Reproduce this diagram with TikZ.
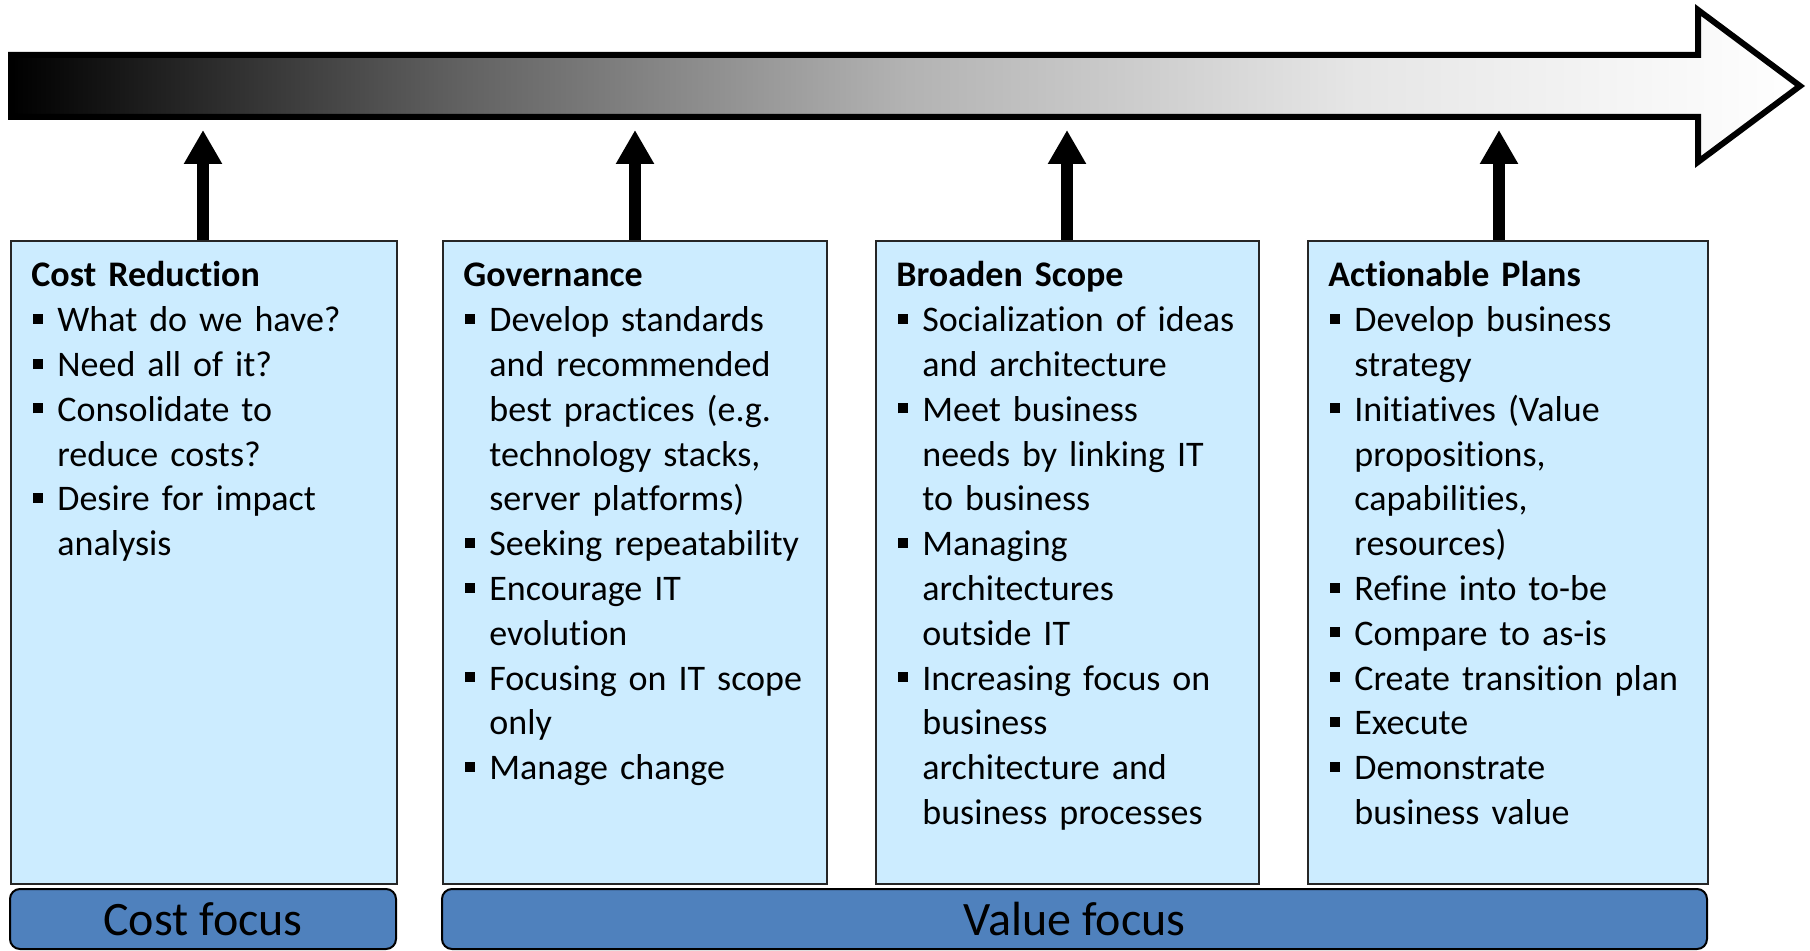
\documentclass[tikz,border=0pt]{standalone}
\usepackage{fontspec}
\setmainfont{Carlito}[Ligatures=NoCommon]
\usepackage{xcolor}
\usepackage{tikz}
\usetikzlibrary{arrows.meta}

\definecolor{boxblue}{RGB}{204,236,255}
\definecolor{barblue}{RGB}{79,129,189}
\pgfdeclarehorizontalshading{timeline}{100bp}{color(0bp)=(black); color(25bp)=(black); color(37.5bp)=(black!62); color(50bp)=(black!30); color(62.5bp)=(black!10); color(75bp)=(white); color(100bp)=(white)}

\newcommand{\itm}{\par\hangindent=13pt\hangafter=1\noindent\makebox[13pt][l]{\hspace{1pt}\raisebox{4pt}{\rule{5pt}{5pt}}}}
\newcommand{\nl}{\newline}

\begin{document}
\begin{tikzpicture}[x=0.5pt,y=-0.5pt]
			\tikzstyle{panel} = [draw=black!85, line width=1pt, fill=boxblue, inner sep=0pt, anchor=north west, minimum height=321.5pt]
			\tikzstyle{list} = [anchor=base west, inner sep=0pt, text width=190pt, align=left, font=\fontsize{18pt}{22.4pt}\selectfont]
			\tikzstyle{focus} = [draw=black, line width=1pt, fill=barblue, rounded corners=5pt, inner sep=0pt, minimum height=30pt, font=\fontsize{24pt}{28pt}\selectfont]
			\tikzset{up/.style = {line width=6pt, -{Triangle[width=18pt, length=17pt]}}}
			\useasboundingbox (0,0) rectangle (1810,951);
			
			% timeline
			\shadedraw[shading=timeline, line width=3pt, line join=miter] (11,55) -- (1698,55) -- (1698,10) -- (1800,86) -- (1698,162) -- (1698,117) -- (11,117) -- cycle;
			\coordinate (t1) at (203,130);
			\coordinate (t2) at (635,130);
			\coordinate (t3) at (1067,130);
			\coordinate (t4) at (1499,130);
			
			\node[panel, minimum width=193pt](cost) at (10,240) {};
			\node[panel, minimum width=192pt](gov) at (442,240) {};
			\node[panel, minimum width=191.5pt](scope) at (875,240) {};
			\node[panel, minimum width=200pt](plans) at (1307,240) {};
			
			\draw[up](t1 |- cost.north) to (t1);
			\draw[up](t2 |- gov.north) to (t2);
			\draw[up](t3 |- scope.north) to (t3);
			\draw[up](t4 |- plans.north) to (t4);
			
			\node[list](costtxt) at (31,287) {\textbf{Cost Reduction}\itm What do we have?\itm Need all of it?\itm Consolidate to\nl reduce costs?\itm Desire for impact\nl analysis\par};
			\node[list](govtxt) at (463,287) {\textbf{Governance}\itm Develop standards\nl and recommended\nl best practices (e.g.\nl technology stacks,\nl server platforms)\itm Seeking repeatability\itm Encourage IT\nl evolution\itm Focusing on IT scope\nl only\itm Manage change\par};
			\node[list](scopetxt) at (896,287) {\textbf{Broaden Scope}\itm Socialization of ideas\nl and architecture\itm Meet business\nl needs by linking IT\nl to business\itm Managing\nl architectures\nl outside IT\itm Increasing focus on\nl business\nl architecture and\nl business processes\par};
			\node[list](planstxt) at (1328,287) {\textbf{Actionable Plans}\itm Develop business\nl strategy\itm Initiatives (Value\nl propositions,\nl capabilities,\nl resources)\itm Refine into to-be\itm Compare to as-is\itm Create transition plan\itm Execute\itm Demonstrate\nl business value\par};
			
			\node[focus, minimum width=193pt](costfocus) at (203,919) {Cost focus};
			\node[focus, minimum width=632.5pt](valuefocus) at (1074.5,919) {Value focus};
			
			\end{tikzpicture}
\end{document}
